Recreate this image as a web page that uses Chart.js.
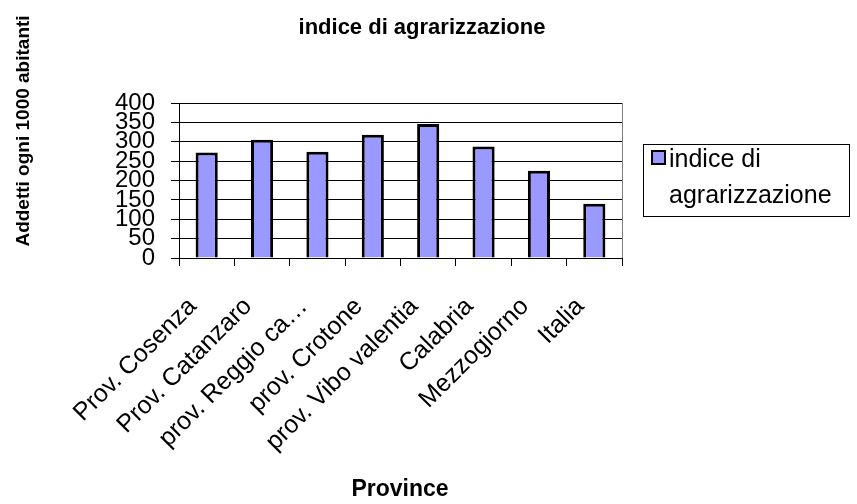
<!DOCTYPE html>
<html>
<head>
<meta charset="utf-8">
<script src="https://cdn.jsdelivr.net/npm/chart.js@4.4.1/dist/chart.umd.min.js"></script>
<style>
  html, body { margin: 0; padding: 0; background: #fff; }
  #wrap { width: 857px; height: 504px; position: relative; }
</style>
</head>
<body>
<div id="wrap"><canvas id="chart"></canvas></div>
<script>
// data
var categories = ['Prov. Cosenza', 'Prov. Catanzaro', 'prov. Reggio ca\u2026', 'prov. Crotone',
                  'prov. Vibo valentia', 'Calabria', 'Mezzogiorno', 'Italia'];
var values = [272, 305, 274, 318, 346, 288, 225, 140];
var yTicks = [0, 50, 100, 150, 200, 250, 300, 350, 400];
var seriesName = 'indice di agrarizzazione';
var legendLines = ['indice di', 'agrarizzazione'];
var chartTitle = 'indice di agrarizzazione';
var xTitle = 'Province';
var yTitle = 'Addetti ogni 1000 abitanti';

(function(){
  var FONT = "'Liberation Sans', Arial, sans-serif";
  Chart.defaults.font.family = FONT;
  Chart.defaults.color = '#000';

  // titles, legend box and plot border drawn by hand
  var extras = {
    id: 'extras',
    afterDraw: function(chart){
      var ctx = chart.ctx, a = chart.chartArea;
      var ds = chart.data.datasets[0];
      ctx.save();

      ctx.strokeStyle = '#808080'; ctx.lineWidth = 1;
      ctx.beginPath(); ctx.moveTo(Math.round(a.right) + 0.5, a.top); ctx.lineTo(Math.round(a.right) + 0.5, a.bottom); ctx.stroke();

      ctx.fillStyle = '#000';
      ctx.textAlign = 'center'; ctx.textBaseline = 'middle';
      ctx.font = 'bold 22px ' + FONT;
      ctx.fillText(chartTitle, 422, 28);
      ctx.font = 'bold 23px ' + FONT;
      ctx.fillText(xTitle, 400, 490);

      ctx.save();
      ctx.translate(24, 131); ctx.rotate(-Math.PI / 2);
      ctx.font = 'bold 19px ' + FONT;
      ctx.fillText(yTitle, 0, 0);
      ctx.restore();

      // legend
      ctx.strokeStyle = '#000'; ctx.lineWidth = 1;
      ctx.strokeRect(643.5, 144.5, 206, 72);
      ctx.fillStyle = ds.backgroundColor;
      ctx.fillRect(652, 151, 13, 13);
      ctx.lineWidth = 2; ctx.strokeRect(652, 151, 13, 13);
      ctx.fillStyle = '#000';
      ctx.textAlign = 'left';
      ctx.font = '25px ' + FONT;
      ctx.fillText(legendLines[0], 669, 160);
      ctx.fillText(legendLines[1], 669, 196);
      ctx.restore();
    }
  };

  new Chart(document.getElementById('chart').getContext('2d'), {
    type: 'bar',
    data: {
      labels: categories,
      datasets: [{
        label: seriesName,
        data: values,
        backgroundColor: '#9999ff',
        borderColor: '#000',
        borderWidth: 3,
        barPercentage: 0.4,
        categoryPercentage: 1
      }]
    },
    options: {
      responsive: true,
      maintainAspectRatio: false,
      animation: false,
      layout: { padding: { top: 103, right: 235, left: 0, bottom: 0 } },
      plugins: { legend: { display: false }, title: { display: false }, tooltip: { enabled: false } },
      scales: {
        x: {
          offset: true,
          grid: { offset: true, drawOnChartArea: false, drawTicks: true, tickLength: 8, color: '#000' },
          border: { color: '#000', width: 1 },
          ticks: { autoSkip: false, minRotation: 45, maxRotation: 45, padding: 26, labelOffset: -14, font: { size: 25 }, color: '#000' },
          afterFit: function(s){ s.height = 246; }
        },
        y: {
          min: 0, max: 400,
          grid: { color: '#000', tickLength: 8 },
          border: { color: '#000', width: 1 },
          ticks: { autoSkip: false, padding: 16, font: { size: 24 }, color: '#000' },
          afterBuildTicks: function(s){ s.ticks = yTicks.map(function(v){ return { value: v }; }); },
          afterFit: function(s){ s.width = 179; }
        }
      }
    },
    plugins: [extras]
  });
})();
</script>
</body>
</html>
